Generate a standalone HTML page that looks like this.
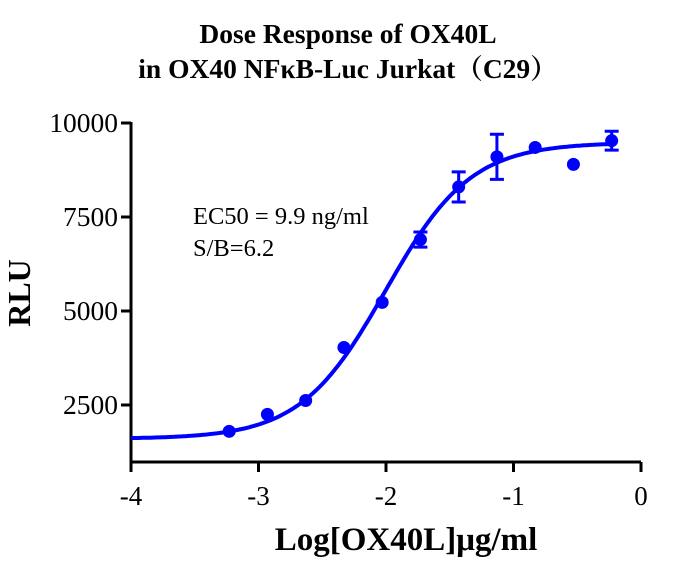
<!DOCTYPE html>
<html><head><meta charset="utf-8"><style>
html,body{margin:0;padding:0;background:#fff;}
svg{display:block;font-family:"Liberation Serif","Noto Serif CJK SC",serif;}
</style></head><body>
<svg id="s" width="696" height="568" viewBox="0 0 696 568" xmlns="http://www.w3.org/2000/svg">
<text x="348" y="43" text-anchor="middle" font-size="27.5" font-weight="bold">Dose Response of OX40L</text>
<text x="348" y="78" text-anchor="middle" font-size="27.5" font-weight="bold">in OX40 NFκB-Luc Jurkat（C29）</text>
<g stroke="#000" stroke-width="3" fill="none">
<path d="M131,122 V462 H641"/>
<path d="M121,123 H131 M121,217 H131 M121,311 H131 M121,405 H131"/>
<path d="M131,462 V472 M258.5,462 V472 M386,462 V472 M513.5,462 V472 M641,462 V472"/>
</g>
<g font-size="27.5" text-anchor="end">
<text x="118" y="132">10000</text>
<text x="118" y="226">7500</text>
<text x="118" y="320">5000</text>
<text x="118" y="414">2500</text>
</g>
<g font-size="27" text-anchor="middle">
<text x="131" y="505">-4</text>
<text x="258.5" y="505">-3</text>
<text x="386" y="505">-2</text>
<text x="513.5" y="505">-1</text>
<text x="641" y="505">0</text>
</g>
<text transform="translate(30,293) rotate(-90)" text-anchor="middle" font-size="32" font-weight="bold">RLU</text>
<text x="406" y="550" text-anchor="middle" font-size="33" font-weight="bold">Log[OX40L]μg/ml</text>
<text x="193" y="224" font-size="24.5">EC50 = 9.9 ng/ml</text>
<text x="193" y="256" font-size="24.5">S/B=6.2</text>
<g id="d"></g>
</svg>
<script>
var X=function(v){return 131+(v+4)*127.5;},Y=function(v){return 499-v*0.0376;};
var p="";for(var i=0;i<=200;i++){var x=-4+i*3.78/200;var y=1600+7880/(1+Math.pow(10,1.3*(-2.004-x)));p+=(i?"L":"M")+X(x).toFixed(1)+","+Y(y).toFixed(1);}
var h='<path d="'+p+'" stroke="#0000ff" stroke-width="4" fill="none"/>';
var pts=[[-3.23,1800,0],[-2.93,2250,0],[-2.63,2620,0],[-2.33,4030,0],[-2.03,5230,0],[-1.73,6900,200],[-1.43,8300,400],[-1.13,9100,600],[-0.83,9350,0],[-0.53,8900,0],[-0.23,9530,250]];
pts.forEach(function(q){var cx=X(q[0]),cy=Y(q[1]);h+='<circle cx="'+cx+'" cy="'+cy+'" r="6.5" fill="#0000ff"/>';
if(q[2]){var a=Y(q[1]+q[2]),b=Y(q[1]-q[2]);h+='<path d="M'+cx+','+a+'V'+b+'M'+(cx-7)+','+a+'H'+(cx+7)+'M'+(cx-7)+','+b+'H'+(cx+7)+'" stroke="#0000ff" stroke-width="3" fill="none"/>';}});
document.getElementById('d').innerHTML=h;
</script>
</body></html>
